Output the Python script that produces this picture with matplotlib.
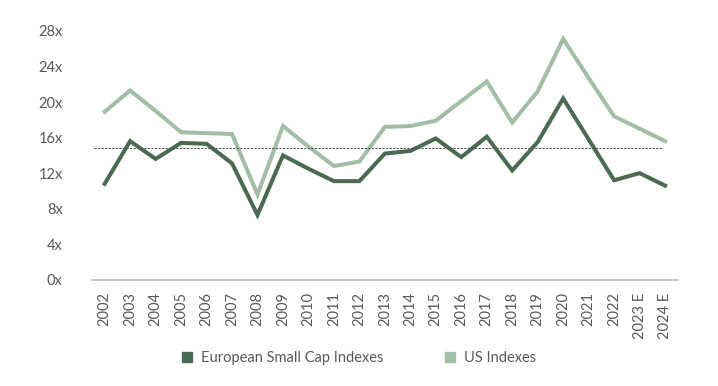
import matplotlib.pyplot as plt
from matplotlib.patches import Patch

plt.rcParams['font.family'] = ['Lato', 'DejaVu Sans']

years = ["2002", "2003", "2004", "2005", "2006", "2007", "2008", "2009",
         "2010", "2011", "2012", "2013", "2014", "2015", "2016", "2017",
         "2018", "2019", "2020", "2021", "2022", "2023 E", "2024 E"]
europe = [10.8, 15.6, 13.6, 15.4, 15.3, 13.1, 7.3, 14.0, 12.5, 11.1, 11.1,
          14.2, 14.5, 15.9, 13.8, 16.1, 12.3, 15.5, 20.4, 15.8, 11.2, 12.0, 10.6]
us = [18.9, 21.3, 19.0, 16.6, 16.5, 16.4, 9.6, 17.3, 15.0, 12.8, 13.3,
      17.2, 17.3, 17.9, 20.1, 22.3, 17.7, 21.2, 27.1, 22.7, 18.4, 17.0, 15.6]
europe_avg = 14.85
yticks = [0, 4, 8, 12, 16, 20, 24, 28]

dark = "#4a6a51"
light = "#a2bfa6"
grey = "#595959"

fig = plt.figure(figsize=(7.18, 3.86), dpi=100)
ax = fig.add_axes([0.128, 0.275, 0.816, 0.645])

x = list(range(len(years)))
ax.plot(x, us, color=light, lw=2.9, solid_joinstyle="miter")
ax.plot(x, europe, color=dark, lw=2.9, solid_joinstyle="miter")
ax.plot([-0.4, len(years) - 1.1], [europe_avg, europe_avg], color="#555555",
        lw=0.8, ls=(0, (2, 1.2)))

ax.set_xlim(-0.5, len(years) - 0.5)
ax.set_ylim(0, 28)
ax.set_yticks(yticks)
ax.set_yticklabels([f"{v}x" for v in yticks])
ax.set_xticks(x)
ax.set_xticklabels(years, rotation=90)
ax.tick_params(axis="both", length=0, labelsize=10.5, colors=grey)
ax.tick_params(axis="y", pad=21)
ax.tick_params(axis="x", pad=9)

for side in ["top", "right", "left"]:
    ax.spines[side].set_visible(False)
ax.spines["bottom"].set_color("#bfbfbf")
ax.spines["bottom"].set_linewidth(1.2)

handles = [Patch(color=dark, label="European Small Cap Indexes"),
           Patch(color=light, label="US Indexes")]
leg = fig.legend(handles=handles, loc="center", bbox_to_anchor=(0.5, 0.073),
                 ncol=2, frameon=False, fontsize=10.5, handlelength=0.7,
                 handleheight=0.7, columnspacing=4.2, handletextpad=0.6)
for t in leg.get_texts():
    t.set_color(grey)

fig.savefig("out.png", dpi=100)
